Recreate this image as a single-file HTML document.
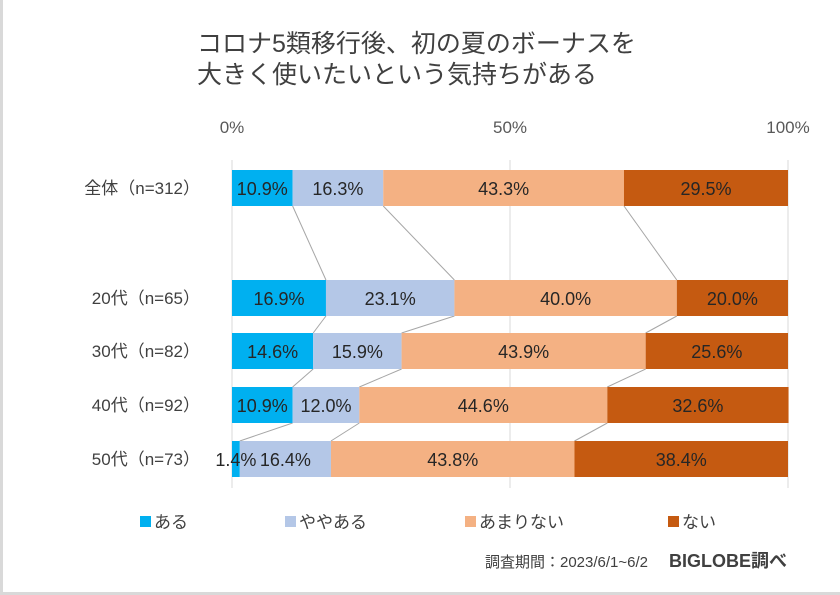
<!DOCTYPE html>
<html><head><meta charset="utf-8"><style>
body{margin:0;background:#fff;}
#wrap{width:840px;height:595px;position:relative;box-sizing:border-box;border:3px solid #d9d9d9;border-right:none;border-top:none;overflow:hidden}
svg text{font-family:"Liberation Sans","Noto Sans CJK JP",sans-serif;}
</style></head><body>
<div id="wrap">
<svg id="c" width="840" height="595" style="position:absolute;left:-3px;top:0">
<text x="197" y="52" font-size="25" fill="#404040">コロナ5類移行後、初の夏のボーナスを</text>
<text x="197" y="83" font-size="25" fill="#404040">大きく使いたいという気持ちがある</text>
<g id="grid"></g><g id="conn"></g><g id="bars"></g><g id="labels"></g>
<g id="legend"></g>
<text x="648" y="567" font-size="15" fill="#404040" text-anchor="end">調査期間：2023/6/1~6/2</text>
<text x="669" y="567" font-size="18" font-weight="bold" fill="#404040">BIGLOBE調べ</text>
</svg>
</div>
<script>
const categories=["全体（n=312）","20代（n=65）","30代（n=82）","40代（n=92）","50代（n=73）"];
const seriesNames=["ある","ややある","あまりない","ない"];
const aru=[10.9,16.9,14.6,10.9,1.4];
const yaya=[16.3,23.1,15.9,12.0,16.4];
const amari=[43.3,40.0,43.9,44.6,43.8];
const nai=[29.5,20.0,25.6,32.6,38.4];
const tickLabels=["0%","50%","100%"];
const tickValues=[0,50,100];
const colors=["#00b0f0","#b4c7e7","#f4b183","#c55a11"];
const NS="http://www.w3.org/2000/svg";
const x0=232,x1=788;
const xs=v=>x0+(x1-x0)*v/100;
const rowY=[170,280,333,387,441],bh=36;
function mk(tag,at,parent,txt){const e=document.createElementNS(NS,tag);for(const k in at)e.setAttribute(k,at[k]);if(txt!=null)e.textContent=txt;parent.appendChild(e);return e;}
const grid=document.getElementById('grid'),bars=document.getElementById('bars'),labels=document.getElementById('labels'),conn=document.getElementById('conn'),leg=document.getElementById('legend');
tickValues.forEach((t,i)=>{
const l=mk('line',{x1:xs(t),x2:xs(t),y1:160,y2:488,stroke:'#d9d9d9','stroke-width':1},grid);


const tx=mk('text',{x:xs(t),y:133,'font-size':17,fill:'#595959','text-anchor':'middle'},grid,tickLabels[i]);


});
const series=[aru,yaya,amari,nai];
categories.forEach((c,r)=>{
const y=rowY[r];
const lb=mk('text',{x:200,y:y+bh/2+6,'font-size':17,fill:'#404040','text-anchor':'end'},bars,c);


let cum=0;
series.forEach((s,k)=>{
const v=s[r];
const rc=mk('rect',{x:xs(cum),y:y,width:xs(cum+v)-xs(cum),height:bh,fill:colors[k]},bars);


const t=mk('text',{x:(xs(cum)+xs(cum+v))/2,y:y+bh/2+7,'font-size':18,fill:'#262626','text-anchor':'middle'},labels,v.toFixed(1)+'%');


cum+=v;
});
});
for(let r=0;r<categories.length-1;r++){
let a=0,b=0;
for(let k=0;k<3;k++){a+=series[k][r];b+=series[k][r+1];
const l=mk('line',{x1:xs(a),y1:rowY[r]+bh,x2:xs(b),y2:rowY[r+1],stroke:'#a6a6a6','stroke-width':1},conn);

}
}
const lx=[140,285,465,668];
seriesNames.forEach((n,k)=>{
const r=mk('rect',{x:lx[k],y:516,width:11,height:11,fill:colors[k]},leg);


const t=mk('text',{x:lx[k]+14,y:528,'font-size':17,fill:'#404040'},leg,n);


});
</script>
</body></html>
